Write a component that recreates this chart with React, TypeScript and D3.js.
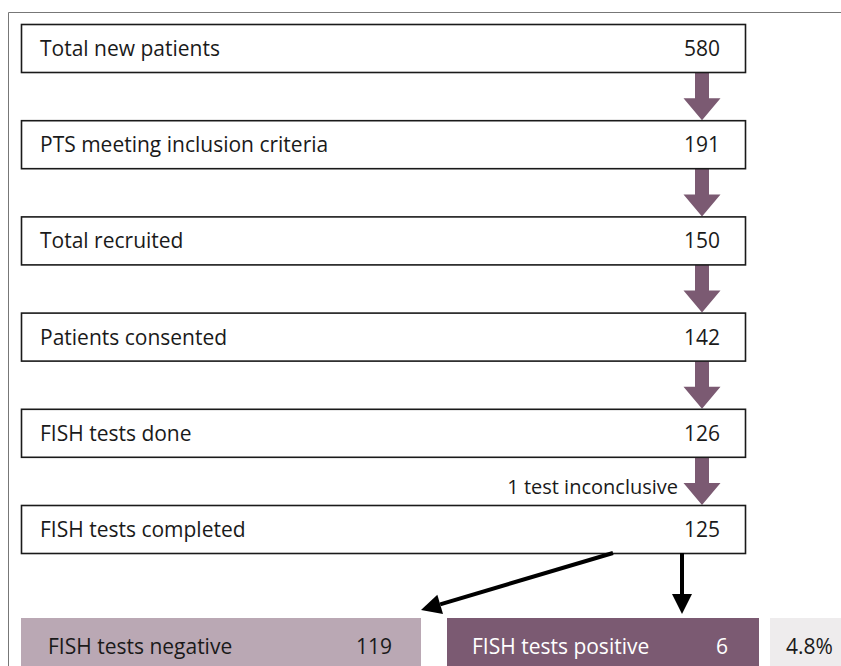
import React from 'react';
import * as d3 from 'd3';

// flow steps, top to bottom
const stages = [
  'Total new patients',
  'PTS meeting inclusion criteria',
  'Total recruited',
  'Patients consented',
  'FISH tests done',
  'FISH tests completed',
];
const stageCounts = [580, 191, 150, 142, 126, 125];

// outcome row
const outcomeLabels = ['FISH tests negative', 'FISH tests positive'];
const outcomeCounts = [119, 6];
const positiveRate = '4.8%';
const stepNote = '1 test inconclusive';

const W = 841;
const H = 666;
const PURPLE = '#7b5a72';
const MAUVE = '#baa8b4';
const LIGHT = '#eeeced';
const FONT = "'Open Sans', 'Noto Sans', sans-serif";

const boxLeft = 21;
const boxRight = 745;
const boxH = 48;
const numRight = 720;
const arrowX = 702;

const y = d3.scalePoint<number>()
  .domain(d3.range(stages.length))
  .range([24, 505]);

const outcomeTop = 618;

// block arrow pointing down (purple)
const blockArrow = (x0: number, y0: number, y1: number) => {
  const shaft = 7;
  const head = 18.5;
  const headLen = 22;
  const p = d3.path();
  p.moveTo(x0 - shaft, y0);
  p.lineTo(x0 + shaft, y0);
  p.lineTo(x0 + shaft, y1 - headLen);
  p.lineTo(x0 + head, y1 - headLen);
  p.lineTo(x0, y1);
  p.lineTo(x0 - head, y1 - headLen);
  p.lineTo(x0 - shaft, y1 - headLen);
  p.closePath();
  return p.toString();
};

// thin black arrow with a triangular head
const lineArrow = (x0: number, y0: number, x1: number, y1: number) => {
  const ang = Math.atan2(y1 - y0, x1 - x0);
  const len = 20;
  const half = 10;
  const bx = x1 - len * Math.cos(ang);
  const by = y1 - len * Math.sin(ang);
  const nx = -Math.sin(ang);
  const ny = Math.cos(ang);
  const head = d3.path();
  head.moveTo(x1, y1);
  head.lineTo(bx + nx * half, by + ny * half);
  head.lineTo(bx - nx * half, by - ny * half);
  head.closePath();
  return { bx, by, head: head.toString() };
};

export default function App() {
  const lastY = y(stages.length - 1)! + boxH;
  const negBox = { x: 21, w: 400 };
  const posBox = { x: 447, w: 312 };
  const rateBox = { x: 770, w: 80 };

  const diag = lineArrow(613, lastY, 421, 610);
  const vert = lineArrow(682, lastY, 682, 614);

  return (
    <svg
      width={W}
      height={H}
      style={{ position: 'absolute', left: 0, top: 0, background: '#fff' }}
      fontFamily={FONT}
    >
      {/* outer frame */}
      <path d={`M8.5,${H} V12.5 H${W}`} fill="none" stroke="#777" strokeWidth={1} />

      {/* purple arrows between steps */}
      {stages.slice(1).map((_, i) => (
        <path
          key={'a' + i}
          d={blockArrow(arrowX, y(i)! + boxH, y(i + 1)!)}
          fill={PURPLE}
        />
      ))}

      {stages.map((s, i) => (
        <g key={s} transform={`translate(0,${y(i)})`}>
          <rect
            x={boxLeft + 0.5}
            y={0.5}
            width={boxRight - boxLeft}
            height={boxH}
            fill="#fff"
            stroke="#1a1a1a"
            strokeWidth={1.6}
          />
          <text x={40} y={boxH / 2 + 8} fontSize={21} fill="#1a1a1a">{s}</text>
          <text x={numRight} y={boxH / 2 + 8} fontSize={21} fill="#1a1a1a" textAnchor="end">
            {stageCounts[i]}
          </text>
        </g>
      ))}

      <text x={678} y={y(stages.length - 1)! - 11} fontSize={20} fill="#1a1a1a" textAnchor="end">
        {stepNote}
      </text>

      {/* split arrows */}
      <line x1={613} y1={lastY} x2={diag.bx} y2={diag.by} stroke="#000" strokeWidth={4} />
      <path d={diag.head} fill="#000" />
      <line x1={682} y1={lastY} x2={vert.bx} y2={vert.by} stroke="#000" strokeWidth={4} />
      <path d={vert.head} fill="#000" />

      {/* outcome row */}
      <rect x={negBox.x} y={outcomeTop} width={negBox.w} height={H - outcomeTop} fill={MAUVE} />
      <text x={48} y={outcomeTop + 36} fontSize={21} fill="#1a1a1a">{outcomeLabels[0]}</text>
      <text x={392} y={outcomeTop + 36} fontSize={21} fill="#1a1a1a" textAnchor="end">
        {outcomeCounts[0]}
      </text>

      <rect x={posBox.x} y={outcomeTop} width={posBox.w} height={H - outcomeTop} fill={PURPLE} />
      <text x={472} y={outcomeTop + 36} fontSize={21} fill="#fff">{outcomeLabels[1]}</text>
      <text x={728} y={outcomeTop + 36} fontSize={21} fill="#fff" textAnchor="end">
        {outcomeCounts[1]}
      </text>

      <rect x={rateBox.x} y={outcomeTop} width={rateBox.w} height={H - outcomeTop} fill={LIGHT} />
      <text x={786} y={outcomeTop + 36} fontSize={21} fill="#1a1a1a">{positiveRate}</text>
    </svg>
  );
}
